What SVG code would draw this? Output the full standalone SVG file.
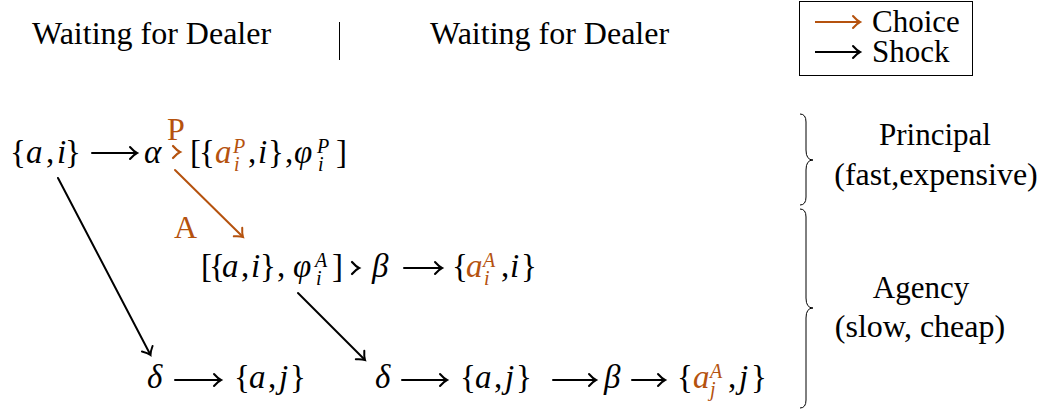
<svg xmlns="http://www.w3.org/2000/svg" width="1048" height="412" viewBox="0 0 1048 412">
<rect width="1048" height="412" fill="#fff"/>
<g id="header">
<text font-family="Liberation Serif" font-size="32" x="32" y="44">Waiting for Dealer</text>
<line x1="339.5" y1="22" x2="339.5" y2="60" stroke="#000" stroke-width="1"/>
<text font-family="Liberation Serif" font-size="32" x="430" y="44">Waiting for Dealer</text>
</g>
<g id="legend">
<rect x="799.5" y="1.5" width="173" height="74" fill="none" stroke="#000" stroke-width="1"/>
<line fill="none" stroke="#B5520E" stroke-width="2" x1="815" y1="22" x2="859" y2="22"/>
<path d="M853,16 Q857,20.5 860,22 Q857,23.5 853,28" fill="none" stroke="#B5520E" stroke-width="2" stroke-linecap="round"/>
<text font-family="Liberation Serif" font-size="31" x="872" y="32">Choice</text>
<line fill="none" stroke="#000" stroke-width="2" x1="815" y1="52" x2="859" y2="52"/>
<path d="M853,46 Q857,50.5 860,52 Q857,53.5 853,58" fill="none" stroke="#000" stroke-width="2" stroke-linecap="round"/>
<text font-family="Liberation Serif" font-size="31" x="872" y="62">Shock</text>
</g>

<g id="n-ai">
<text font-family="Liberation Serif" font-size="33" y="163"><tspan x="10">{</tspan><tspan x="26" font-style="italic">a</tspan><tspan x="46">,</tspan><tspan x="57" font-style="italic">i</tspan><tspan x="65">}</tspan></text>
</g>
<g id="n-alpha">
<text font-family="Liberation Serif" font-size="33" font-style="italic" x="144" y="163">α</text>
</g>
<g id="n-P">
<text font-family="Liberation Serif" font-size="32" fill="#B5520E" x="167" y="140">P</text>
</g>
<g id="n-principal-state">
<text font-family="Liberation Serif" font-size="33" y="163"><tspan x="190">[</tspan><tspan x="199">{</tspan><tspan x="215" font-style="italic" fill="#B5520E">a</tspan><tspan x="233" y="153" font-size="20" font-style="italic" fill="#B5520E">P</tspan><tspan x="234" y="171" font-size="20" font-style="italic" fill="#B5520E">i</tspan><tspan x="248" y="163">,</tspan><tspan x="258" font-style="italic">i</tspan><tspan x="268">}</tspan><tspan x="285">,</tspan><tspan x="294" font-style="italic">φ</tspan><tspan x="317" y="153" font-size="20" font-style="italic">P</tspan><tspan x="318" y="171" font-size="20" font-style="italic">i</tspan><tspan x="336" y="163">]</tspan></text>
</g>
<g id="n-A">
<text font-family="Liberation Serif" font-size="32" fill="#B5520E" x="174" y="238">A</text>
</g>
<g id="n-agency-state">
<text font-family="Liberation Serif" font-size="33" y="277"><tspan x="201">[</tspan><tspan x="209">{</tspan><tspan x="222" font-style="italic">a</tspan><tspan x="241">,</tspan><tspan x="251" font-style="italic">i</tspan><tspan x="260">}</tspan><tspan x="277">,</tspan><tspan x="293" font-style="italic">φ</tspan><tspan x="315" y="267" font-size="20" font-style="italic">A</tspan><tspan x="316" y="285" font-size="20" font-style="italic">i</tspan><tspan x="332" y="277">]</tspan></text>
</g>
<g id="n-beta1">
<text font-family="Liberation Serif" font-size="33" font-style="italic" x="372" y="277">β</text>
</g>
<g id="n-aiA">
<text font-family="Liberation Serif" font-size="33" y="277"><tspan x="452">{</tspan><tspan x="466" font-style="italic" fill="#B5520E">a</tspan><tspan x="483" y="267" font-size="20" font-style="italic" fill="#B5520E">A</tspan><tspan x="484" y="285" font-size="20" font-style="italic" fill="#B5520E">i</tspan><tspan x="501" y="277">,</tspan><tspan x="510" font-style="italic">i</tspan><tspan x="521">}</tspan></text>
</g>
<g id="n-delta1">
<text font-family="Liberation Serif" font-size="33" font-style="italic" x="147" y="388">δ</text>
</g>
<g id="n-aj1">
<text font-family="Liberation Serif" font-size="33" y="388"><tspan x="234">{</tspan><tspan x="249" font-style="italic">a</tspan><tspan x="268">,</tspan><tspan x="279" font-style="italic">j</tspan><tspan x="290">}</tspan></text>
</g>
<g id="n-delta2">
<text font-family="Liberation Serif" font-size="33" font-style="italic" x="375" y="388">δ</text>
</g>
<g id="n-aj2">
<text font-family="Liberation Serif" font-size="33" y="388"><tspan x="460">{</tspan><tspan x="475" font-style="italic">a</tspan><tspan x="494">,</tspan><tspan x="505" font-style="italic">j</tspan><tspan x="516">}</tspan></text>
</g>
<g id="n-beta2">
<text font-family="Liberation Serif" font-size="33" font-style="italic" x="604" y="388">β</text>
</g>
<g id="n-ajA">
<text font-family="Liberation Serif" font-size="33" y="388"><tspan x="677">{</tspan><tspan x="693" font-style="italic" fill="#B5520E">a</tspan><tspan x="710" y="378" font-size="20" font-style="italic" fill="#B5520E">A</tspan><tspan x="710" y="396" font-size="20" font-style="italic" fill="#B5520E">j</tspan><tspan x="728" y="388">,</tspan><tspan x="739" font-style="italic">j</tspan><tspan x="751">}</tspan></text>
</g>

<g id="connectors" fill="none" stroke-width="2" stroke-linecap="round">
<line stroke="#000" x1="92" y1="153" x2="136" y2="153"/>
<path stroke="#000" transform="translate(137,153)" d="M-7,-6 Q-3,-1.5 0,0 Q-3,1.5 -7,6"/>
<path stroke="#B5520E" stroke-width="2.2" transform="translate(180,152)" d="M-7,-6 Q-3,-1.5 0,0 Q-3,1.5 -7,6"/>
<line stroke="#B5520E" x1="175" y1="170" x2="242" y2="236"/>
<path stroke="#B5520E" transform="translate(243,237) rotate(44.6)" d="M-7,-6 Q-3,-1.5 0,0 Q-3,1.5 -7,6"/>
<path stroke="#000" stroke-width="2.2" transform="translate(359,268)" d="M-7,-6 Q-3,-1.5 0,0 Q-3,1.5 -7,6"/>
<line stroke="#000" x1="404" y1="268" x2="441" y2="268"/>
<path stroke="#000" transform="translate(442,268)" d="M-7,-6 Q-3,-1.5 0,0 Q-3,1.5 -7,6"/>
<line stroke="#000" x1="58" y1="178" x2="150" y2="354"/>
<path stroke="#000" transform="translate(150.5,355) rotate(62.4)" d="M-7,-6 Q-3,-1.5 0,0 Q-3,1.5 -7,6"/>
<line stroke="#000" x1="298" y1="293" x2="364" y2="359"/>
<path stroke="#000" transform="translate(365,360) rotate(45)" d="M-7,-6 Q-3,-1.5 0,0 Q-3,1.5 -7,6"/>
<line stroke="#000" x1="175" y1="380" x2="220" y2="380"/>
<path stroke="#000" transform="translate(221,380)" d="M-7,-6 Q-3,-1.5 0,0 Q-3,1.5 -7,6"/>
<line stroke="#000" x1="402" y1="380" x2="446" y2="380"/>
<path stroke="#000" transform="translate(447,380)" d="M-7,-6 Q-3,-1.5 0,0 Q-3,1.5 -7,6"/>
<line stroke="#000" x1="553" y1="380" x2="595" y2="380"/>
<path stroke="#000" transform="translate(596,380)" d="M-7,-6 Q-3,-1.5 0,0 Q-3,1.5 -7,6"/>
<line stroke="#000" x1="632" y1="380" x2="664" y2="380"/>
<path stroke="#000" transform="translate(665,380)" d="M-7,-6 Q-3,-1.5 0,0 Q-3,1.5 -7,6"/>
</g>

<g id="brace-principal">
<path d="M800,114 Q806,114 806,122 L806,150 Q806,160 813,160 Q806,160 806,170 L806,197 Q806,205 800,205" fill="none" stroke="#000" stroke-width="1"/>
<text font-family="Liberation Serif" font-size="31" x="935" y="145" text-anchor="middle">Principal</text>
<text font-family="Liberation Serif" font-size="32" x="936" y="185" text-anchor="middle">(fast,expensive)</text>
</g>
<g id="brace-agency">
<path d="M800,209 Q806,209 806,217 L806,298 Q806,308 813,308 Q806,308 806,318 L806,400 Q806,408 800,408" fill="none" stroke="#000" stroke-width="1"/>
<text font-family="Liberation Serif" font-size="31" x="921" y="298" text-anchor="middle">Agency</text>
<text font-family="Liberation Serif" font-size="32" x="920" y="337" text-anchor="middle">(slow, cheap)</text>
</g>
</svg>
